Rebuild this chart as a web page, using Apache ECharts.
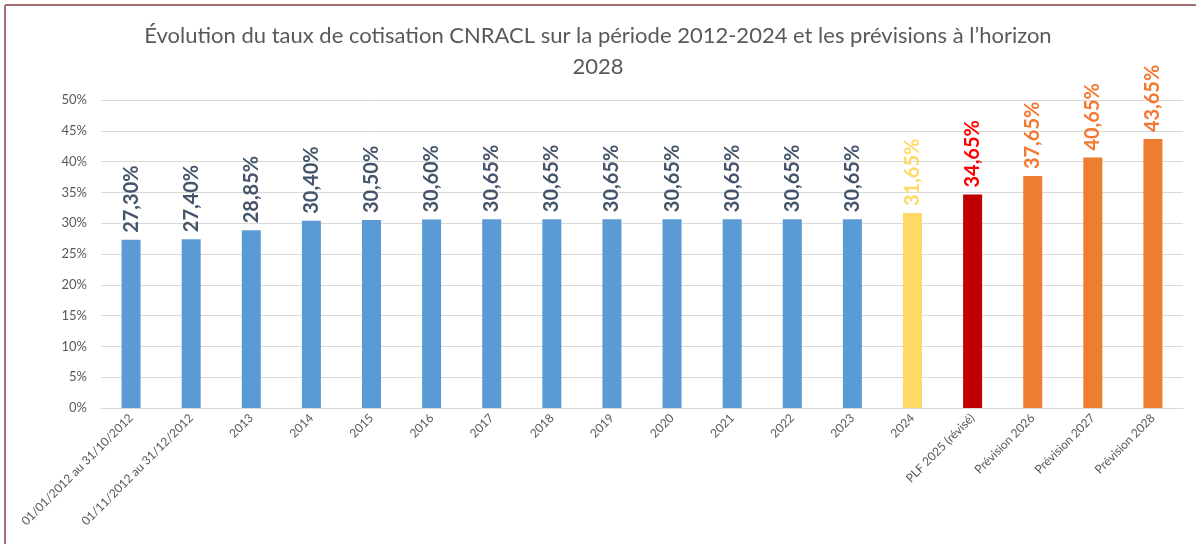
<!DOCTYPE html>
<html>
<head>
<meta charset="utf-8">
<script src="https://cdn.jsdelivr.net/npm/echarts@6/dist/echarts.min.js"></script>
<style>
  html, body { margin: 0; padding: 0; background: #fff; }
  #chart { width: 1196px; height: 544px; }
</style>
</head>
<body>
<div id="chart"></div>
<script>
const categories = ['01/01/2012 au 31/10/2012', '01/11/2012 au 31/12/2012', '2013', '2014', '2015', '2016', '2017', '2018', '2019', '2020', '2021', '2022', '2023', '2024', 'PLF 2025 (révisé)', 'Prévision 2026', 'Prévision 2027', 'Prévision 2028'];
const rates = [27.30, 27.40, 28.85, 30.40, 30.50, 30.60, 30.65, 30.65, 30.65, 30.65, 30.65, 30.65, 30.65, 31.65, 34.65, 37.65, 40.65, 43.65];
// kind of bar: 0 = réalisé, 1 = 2024, 2 = PLF, 3 = prévision
const kinds = [0, 0, 0, 0, 0, 0, 0, 0, 0, 0, 0, 0, 0, 1, 2, 3, 3, 3];
const yTicks = [0, 5, 10, 15, 20, 25, 30, 35, 40, 45, 50];

const barColors = ['#5B9BD5', '#FFD966', '#C00000', '#ED7D31'];
const labelColors = ['#44546A', '#FFD966', '#FF0000', '#F4782F'];

var myChart = echarts.init(document.getElementById('chart'));
const option = {
    backgroundColor: '#fff',
    animation: false,
    title: {
        text: 'Évolution du taux de cotisation CNRACL sur la période 2012-2024 et les prévisions à l\u2019horizon\n2028',
        left: 'center',
        top: 15,
        textStyle: {
            fontFamily: 'Lato',
            fontSize: 22,
            fontWeight: 'normal',
            color: '#595959',
            lineHeight: 31
        }
    },
    graphic: [
        { type: 'line', shape: { x1: 5, y1: 5, x2: 1196, y2: 5 }, style: { stroke: '#A5706F', lineWidth: 2 } },
        { type: 'line', shape: { x1: 5, y1: 5, x2: 5, y2: 544 }, style: { stroke: '#A5706F', lineWidth: 2 } }
    ],
    grid: {
        left: 101,
        right: 13,
        top: 100,
        bottom: 136
    },
    xAxis: {
        type: 'category',
        data: categories,
        axisTick: { show: false },
        axisLine: { lineStyle: { color: '#D9D9D9', width: 1 } },
        axisLabel: {
            interval: 0,
            rotate: 45,
            fontFamily: 'Lato',
            fontSize: 12,
            color: '#595959',
            margin: 8
        }
    },
    yAxis: {
        type: 'value',
        min: yTicks[0],
        max: yTicks[yTicks.length - 1],
        interval: 5,
        axisLine: { show: false },
        axisTick: { show: false },
        splitLine: { lineStyle: { color: '#D9D9D9', width: 1 } },
        axisLabel: {
            formatter: v => v + '%',
            fontFamily: 'Lato',
            fontSize: 13,
            color: '#595959',
            margin: 14
        }
    },
    series: [
        {
            type: 'bar',
            barWidth: 19,
            data: rates.map((v, i) => ({
                value: v,
                itemStyle: { color: barColors[kinds[i]] },
                label: { color: labelColors[kinds[i]] }
            })),
            label: {
                show: true,
                position: 'top',
                rotate: 90,
                align: 'left',
                verticalAlign: 'middle',
                distance: 7,
                fontFamily: 'Lato',
                fontSize: 20,
                fontWeight: 'bold',
                formatter: p => p.value.toFixed(2).replace('.', ',') + '%'
            }
        }
    ]
};
myChart.setOption(option);
</script>
</body>
</html>
